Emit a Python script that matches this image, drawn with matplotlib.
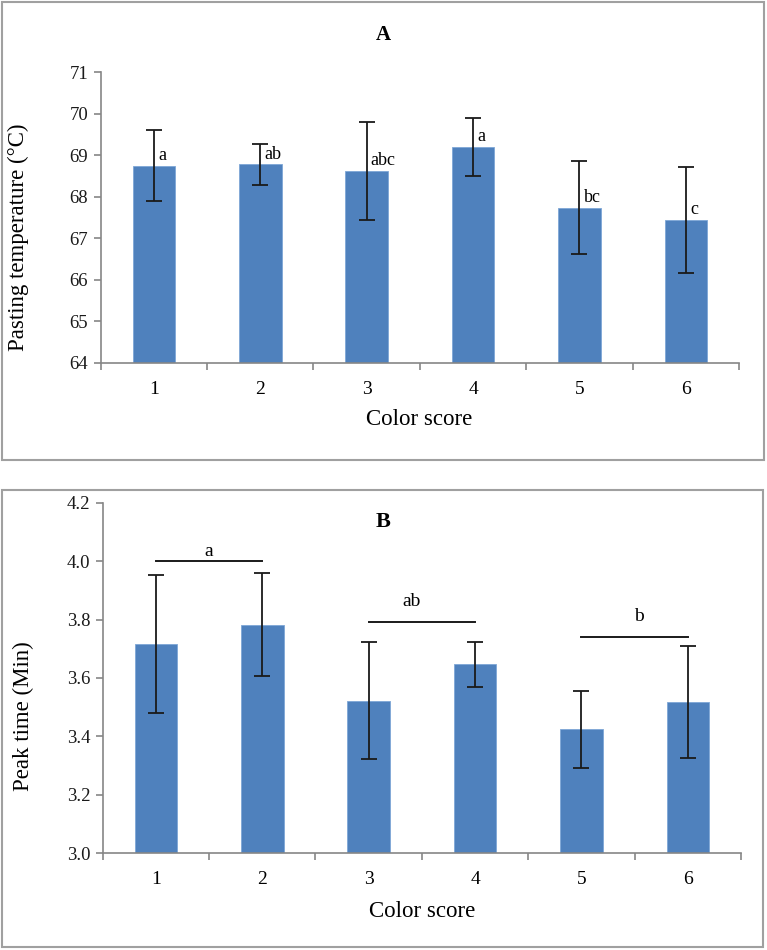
import matplotlib.pyplot as plt
from matplotlib.patches import Rectangle

plt.rcParams['font.family'] = ['Liberation Serif', 'DejaVu Serif']

# data
scores = [1, 2, 3, 4, 5, 6]
score_labels = ['1', '2', '3', '4', '5', '6']

pasting_temp = [68.75, 68.78, 68.63, 69.20, 67.73, 67.44]
pasting_err = [0.86, 0.50, 1.18, 0.71, 1.12, 1.28]
pasting_letters = ['a', 'ab', 'abc', 'a', 'bc', 'c']

peak_time = [3.715, 3.782, 3.522, 3.647, 3.424, 3.519]
peak_err = [0.236, 0.176, 0.200, 0.077, 0.132, 0.192]
group_spans = [(1, 2), (3, 4), (5, 6)]
group_line_y = [4.0, 3.79, 3.74]
group_letters = ['a', 'ab', 'b']
group_letter_x = [1.5, 3.4, 5.54]
group_letter_y = [4.033, 3.86, 3.81]

bar_color = '#4f81bd'
spine_color = '#868686'

fig = plt.figure(figsize=(7.67, 9.5), dpi=100)

# frames round each panel
for (x0, y0, x1, y1) in [(2, 2, 764, 460), (2, 490, 763, 947)]:
    fig.patches.append(Rectangle((x0 / 767, 1 - y1 / 950), (x1 - x0) / 767, (y1 - y0) / 950,
                                 transform=fig.transFigure, fill=False,
                                 edgecolor='#a0a0a0', linewidth=1.5))


def style_axes(ax):
    for s in ['top', 'right']:
        ax.spines[s].set_visible(False)
    for s in ['left', 'bottom']:
        ax.spines[s].set_color(spine_color)
        ax.spines[s].set_linewidth(1.2)
    ax.set_xlim(0.5, 6.5)
    ax.set_xticks(scores)
    ax.set_xticklabels(score_labels)
    ax.set_xticks([s - 0.5 for s in scores] + [6.5], minor=True)
    ax.tick_params(axis='x', which='major', length=0, pad=13, labelsize=14)
    ax.tick_params(axis='x', which='minor', length=5, color=spine_color, width=1.2)
    ax.tick_params(axis='y', length=5, color=spine_color, width=1.2, labelsize=13.5, pad=4,
                   labelcolor='#1a1a1a')


# panel A
axA = fig.add_axes([0.1313, 0.6182, 0.8322, 0.3057])
axA.bar(scores, pasting_temp, width=0.4, color=bar_color, edgecolor='#7ea6d6', linewidth=0.6)
axA.errorbar(scores, pasting_temp, yerr=pasting_err, fmt='none', ecolor='#1a1a1a',
             elinewidth=1.3, capsize=5.5, capthick=1.3)
axA.set_ylim(64, 71)
axA.set_yticks(range(64, 72))
style_axes(axA)
for x, y, t in zip(scores, pasting_temp, pasting_letters):
    axA.annotate(t, (x, y), xytext=(3, 4), textcoords='offset points',
                 ha='left', va='baseline', fontsize=13)
axA.set_ylabel('Pasting temperature (°C)', fontsize=16.5)
axA.yaxis.set_label_coords(-0.112, 0.433)
axA.set_xlabel('Color score', fontsize=16.5)
axA.xaxis.set_label_coords(0.499, -57 / 290.4)
axA.xaxis.label.set_va('center')
fig.text(0.4993, 1 - 35 / 950, 'A', ha='center', va='center', fontsize=15, fontweight='bold')

# panel B
axB = fig.add_axes([0.1339, 0.1018, 0.8322, 0.3691])
axB.bar(scores, peak_time, width=0.4, color=bar_color, edgecolor='#7ea6d6', linewidth=0.6)
axB.errorbar(scores, peak_time, yerr=peak_err, fmt='none', ecolor='#1a1a1a',
             elinewidth=1.3, capsize=5.5, capthick=1.3)
axB.set_ylim(3.0, 4.2)
axB.set_yticks([3.0, 3.2, 3.4, 3.6, 3.8, 4.0, 4.2])
axB.set_yticklabels(['%.1f' % v for v in [3.0, 3.2, 3.4, 3.6, 3.8, 4.0, 4.2]])
style_axes(axB)
for (x0, x1), ly, t, tx, ty in zip(group_spans, group_line_y, group_letters,
                                   group_letter_x, group_letter_y):
    axB.plot([x0, x1], [ly, ly], color='#1a1a1a', linewidth=1.4)
    axB.text(tx, ty, t, ha='center', va='center', fontsize=14)
axB.set_ylabel('Peak time (Min)', fontsize=16.5)
axB.yaxis.set_label_coords(-0.108, 0.392)
axB.set_xlabel('Color score', fontsize=16.5)
axB.xaxis.set_label_coords(0.5, -58 / 350.6)
axB.xaxis.label.set_va('center')
fig.text(0.4993, 1 - 522 / 950, 'B', ha='center', va='center', fontsize=16, fontweight='bold')

fig.savefig('out.png', dpi=100)
